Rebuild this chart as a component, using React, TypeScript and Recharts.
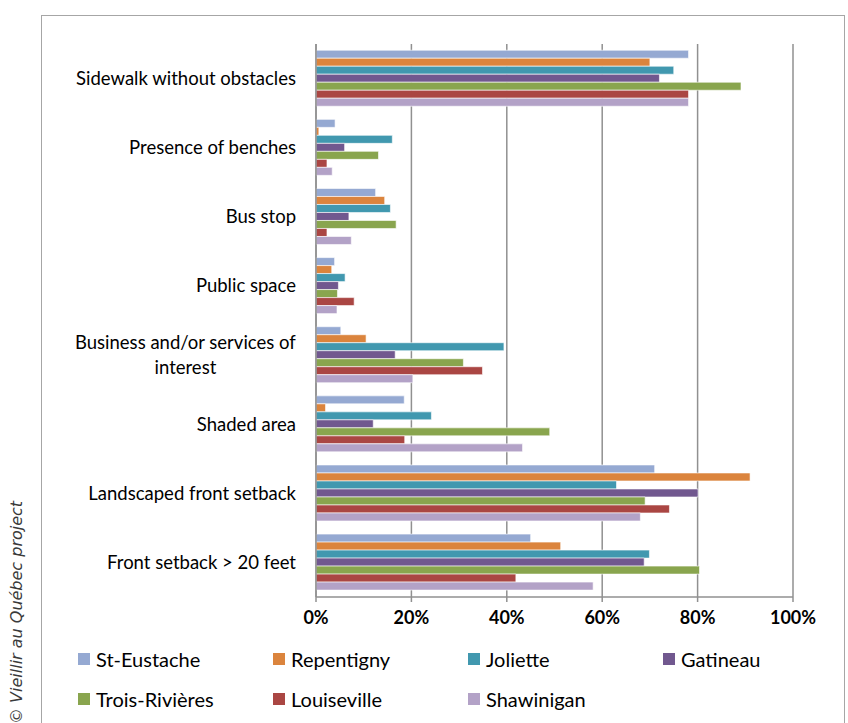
import React from 'react';
import { BarChart, Bar, XAxis, YAxis, CartesianGrid, Legend } from 'recharts';

const categories = [
  'Sidewalk without obstacles',
  'Presence of benches',
  'Bus stop',
  'Public space',
  'Business and/or services of interest',
  'Shaded area',
  'Landscaped front setback',
  'Front setback > 20 feet',
];

const cities = ['St-Eustache', 'Repentigny', 'Joliette', 'Gatineau', 'Trois-Rivières', 'Louiseville', 'Shawinigan'];

const stEustache = [0.781, 0.04, 0.125, 0.039, 0.052, 0.185, 0.71, 0.45];
const repentigny = [0.70, 0.006, 0.144, 0.033, 0.105, 0.02, 0.91, 0.513];
const joliette = [0.75, 0.16, 0.156, 0.061, 0.394, 0.242, 0.63, 0.699];
const gatineau = [0.72, 0.06, 0.069, 0.047, 0.166, 0.12, 0.801, 0.688];
const troisRivieres = [0.891, 0.131, 0.168, 0.045, 0.309, 0.49, 0.69, 0.804];
const louiseville = [0.781, 0.023, 0.023, 0.08, 0.349, 0.186, 0.741, 0.419];
const shawinigan = [0.781, 0.034, 0.074, 0.044, 0.203, 0.433, 0.68, 0.581];

const xTicks = [0, 0.2, 0.4, 0.6, 0.8, 1];
const boundaryTicks = [0, 1, 2, 3, 4, 5, 6, 7, 8];

const colors = ['#95A9D2', '#DB843D', '#4198AF', '#71588F', '#89A54E', '#AA4643', '#B3A2C7'];

const seriesValues = [stEustache, repentigny, joliette, gatineau, troisRivieres, louiseville, shawinigan];

const data = categories.map((name, i) => {
  const row: Record<string, any> = { name };
  cities.forEach((c, j) => {
    row[c] = seriesValues[j][i];
  });
  return row;
});

const FONT = 'Lato, "Open Sans", sans-serif';
const LABEL_SIZE = 18.5;
const LEGEND_SIZE = 20;

let ctx: CanvasRenderingContext2D | null = null;
const measure = (t: string, font: string) => {
  if (!ctx) ctx = document.createElement('canvas').getContext('2d');
  if (!ctx) return t.length * 9;
  ctx.font = font;
  return ctx.measureText(t).width;
};

function CategoryTick(props: any) {
  const { x, y, payload } = props;
  const text: string = payload.value;
  const font = `${LABEL_SIZE}px Lato`;
  const maxW = 235;
  const words = text.split(' ');
  const lines: string[] = [];
  let cur = '';
  for (const w of words) {
    const t = cur ? cur + ' ' + w : w;
    if (cur && measure(t, font) > maxW) {
      lines.push(cur);
      cur = w;
    } else cur = t;
  }
  lines.push(cur);
  if (lines.length === 1) {
    return (
      <text x={x} y={y} dy="0.35em" textAnchor="end" fontFamily={FONT} fontSize={LABEL_SIZE} fill="#000">
        {text}
      </text>
    );
  }
  const blockW = Math.max(...lines.map((l) => measure(l, font)));
  const cx = x - blockW / 2;
  const lh = 25;
  return (
    <text textAnchor="middle" fontFamily={FONT} fontSize={LABEL_SIZE} fill="#000">
      {lines.map((l, i) => (
        <tspan key={i} x={cx} y={y + (i - (lines.length - 1) / 2) * lh} dy="0.35em">
          {l}
        </tspan>
      ))}
    </text>
  );
}

function LegendContent() {
  return (
    <div
      style={{
        display: 'grid',
        gridTemplateColumns: 'repeat(4, 195px)',
        gridAutoRows: '40px',
        alignItems: 'center',
        fontFamily: FONT,
        fontSize: LEGEND_SIZE,
        color: '#000',
      }}
    >
      {cities.map((c, i) => (
        <div key={c} style={{ display: 'flex', alignItems: 'center' }}>
          <span style={{ display: 'inline-block', width: 12, height: 12, background: colors[i], marginRight: 6 }} />
          <span>{c}</span>
        </div>
      ))}
    </div>
  );
}

export default function App() {
  return (
    <div style={{ position: 'absolute', left: 0, top: 0, width: 848, height: 723, overflow: 'hidden', background: '#fff' }}>
      <div
        style={{
          position: 'absolute',
          left: 41,
          top: 15,
          width: 804,
          height: 740,
          border: '1px solid #a6a6a6',
          boxSizing: 'border-box',
        }}
      />
      <svg style={{ position: 'absolute', left: 0, top: 0 }} width={40} height={723}>
        <text
          x={22}
          y={724}
          transform="rotate(-90, 22, 724)"
          fontFamily='"DejaVu Sans", sans-serif'
          fontStyle="italic"
          fontSize={16}
          fill="#3a3a3a"
        >
          © Vieillir au Québec project
        </text>
      </svg>
      <div style={{ position: 'absolute', left: 0, top: 0 }}>
        <BarChart
          width={848}
          height={723}
          data={data}
          layout="vertical"
          margin={{ top: 44, right: 55, bottom: 96, left: 0 }}
          barCategoryGap="9%"
          barGap={0}
        >
          <CartesianGrid horizontal={false} vertical stroke="#909090" strokeWidth={1.5} />
          <XAxis
            type="number"
            domain={[0, 1]}
            ticks={xTicks}
            height={30}
            tickFormatter={(v: number) => `${Math.round(v * 100)}%`}
            axisLine={{ stroke: '#909090', strokeWidth: 1.5 }}
            tickLine={{ stroke: '#909090', strokeWidth: 1.5 }}
            tickSize={5}
            tickMargin={9}
            tick={{ fontFamily: FONT, fontSize: 18, fontWeight: 700, fill: '#000' }}
            interval={0}
          />
          <YAxis
            yAxisId="b"
            type="number"
            domain={[0, 8]}
            ticks={boundaryTicks}
            width={0}
            axisLine={false}
            tickLine={{ stroke: '#909090', strokeWidth: 1.5 }}
            tickSize={6}
            tickFormatter={() => ''}
            interval={0}
          />
          <YAxis
            type="category"
            dataKey="name"
            width={316}
            axisLine={{ stroke: '#909090', strokeWidth: 1.5 }}
            tickLine={false}
            tickSize={6}
            tickMargin={14}
            tick={<CategoryTick />}
            interval={0}
          />
          {cities.map((c, i) => (
            <Bar
              key={c}
              dataKey={c}
              fill={colors[i]}
              stroke="#ffffff"
              strokeOpacity={0.6}
              strokeWidth={1}
              isAnimationActive={false}
            />
          ))}
          <Legend
            layout="horizontal"
            verticalAlign="middle"
            align="center"
            wrapperStyle={{ top: 639, left: 78, width: 780, height: 80 }}
            content={() => <LegendContent />}
          />
        </BarChart>
      </div>
    </div>
  );
}
